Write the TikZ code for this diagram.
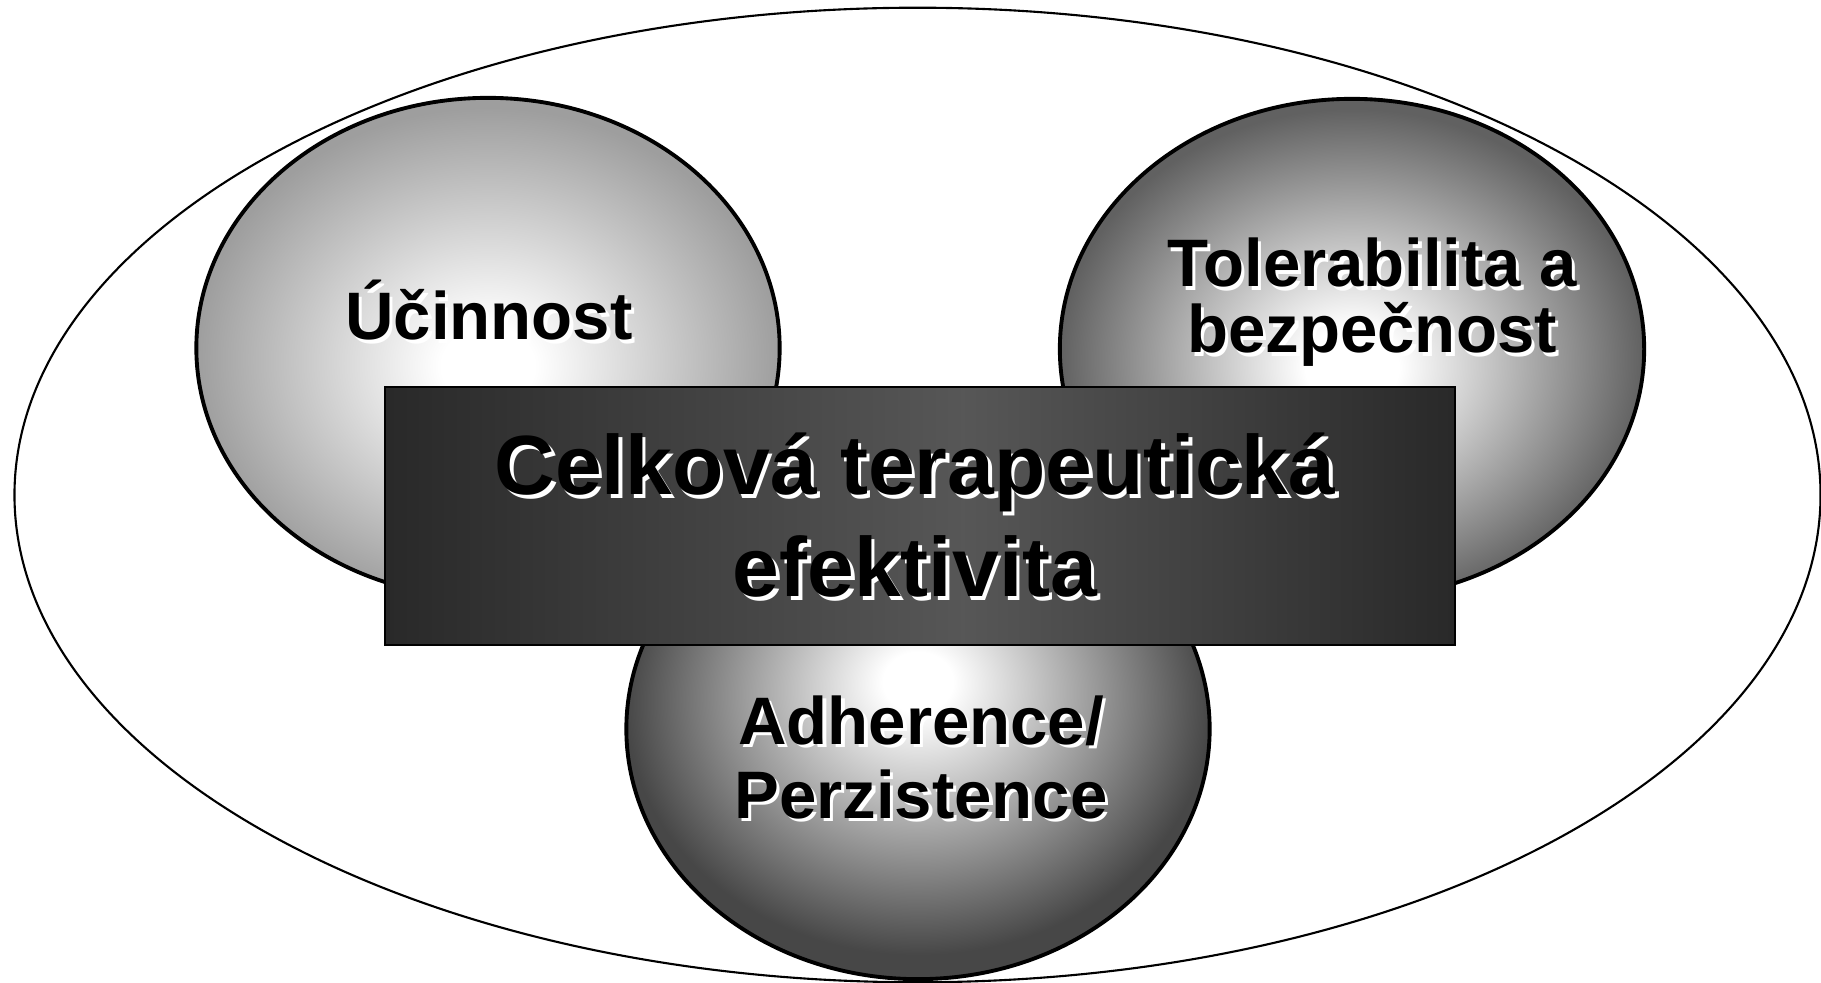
\documentclass[tikz,border=0pt]{standalone}
\usepackage{fontspec}
\setmainfont{Liberation Sans}
\usepackage{xcolor}
\usepackage{tikz}
\usetikzlibrary{shapes.geometric, positioning}

\pgfdeclareradialshading{ballleft}{\pgfpoint{0bp}{-2bp}}{color(0bp)=(white); color(4bp)=(white); color(25bp)=(black!38); color(50bp)=(black!38)}
\pgfdeclareradialshading{ballright}{\pgfpoint{0bp}{-2bp}}{color(0bp)=(white); color(4bp)=(white); color(25bp)=(black!62); color(50bp)=(black!62)}
\pgfdeclareradialshading{ballbottom}{\pgfpoint{0bp}{5bp}}{color(0bp)=(white); color(3bp)=(white); color(25bp)=(black!72); color(50bp)=(black!72)}
\pgfdeclarehorizontalshading{corebar}{100bp}{color(0bp)=(black!84); color(25bp)=(black!84); color(52bp)=(black!66); color(75bp)=(black!84); color(100bp)=(black!84)}

\newcommand{\shadowed}[1]{\leavevmode\rlap{\hspace{0.035cm}\raisebox{-0.035cm}{\textcolor{white}{#1}}}#1}

\tikzstyle{frame} = [ellipse, draw=black, line width=0.6pt, inner sep=0pt, minimum width=18.05cm, minimum height=9.74cm]
\tikzstyle{ball} = [ellipse, draw=black, line width=1.1pt, inner sep=0pt, minimum width=5.83cm, minimum height=5cm]
\tikzstyle{core} = [rectangle, draw=black, line width=0.6pt, inner sep=0pt, minimum width=10.7cm, minimum height=2.58cm, shading=corebar]
\tikzstyle{balltext} = [align=center, inner sep=0pt, font=\bfseries\fontsize{19.1pt}{18.8pt}\selectfont]
\tikzstyle{bigtext} = [align=center, inner sep=0pt, font=\bfseries\fontsize{23.9pt}{29pt}\selectfont]

\begin{document}
\begin{tikzpicture}[x=0.01cm, y=-0.01cm]
    \useasboundingbox (0,0) rectangle (1821,983);

    \node[frame] (outer) at (917.5,495) {};

    \node[ball, shading=ballleft] (ucin) at (488,348) {};
    \node[ball, shading=ballright, minimum width=5.84cm] (toler) at (1352,349) {};
    \node[ball, shading=ballbottom] (adher) at (918,729) {};

    \node[core] (celk) at (920,516) {};

    % texts
    \node[balltext, anchor=base] (ucintext) at (489,340) {\shadowed{Účinnost}};
    \node[balltext] (tolertext) at (1372,304) {\shadowed{Tolerabilita a}\\\shadowed{bezpečnost}};
    \node[balltext, font=\bfseries\fontsize{19.1pt}{21pt}\selectfont] (adhertext) at (921,759) {\shadowed{Adherence/}\\\shadowed{Perzistence}};
    \node[bigtext] (celktext) at (915,517) {\shadowed{Celková terapeutická}\\\shadowed{efektivita}};
\end{tikzpicture}
\end{document}
